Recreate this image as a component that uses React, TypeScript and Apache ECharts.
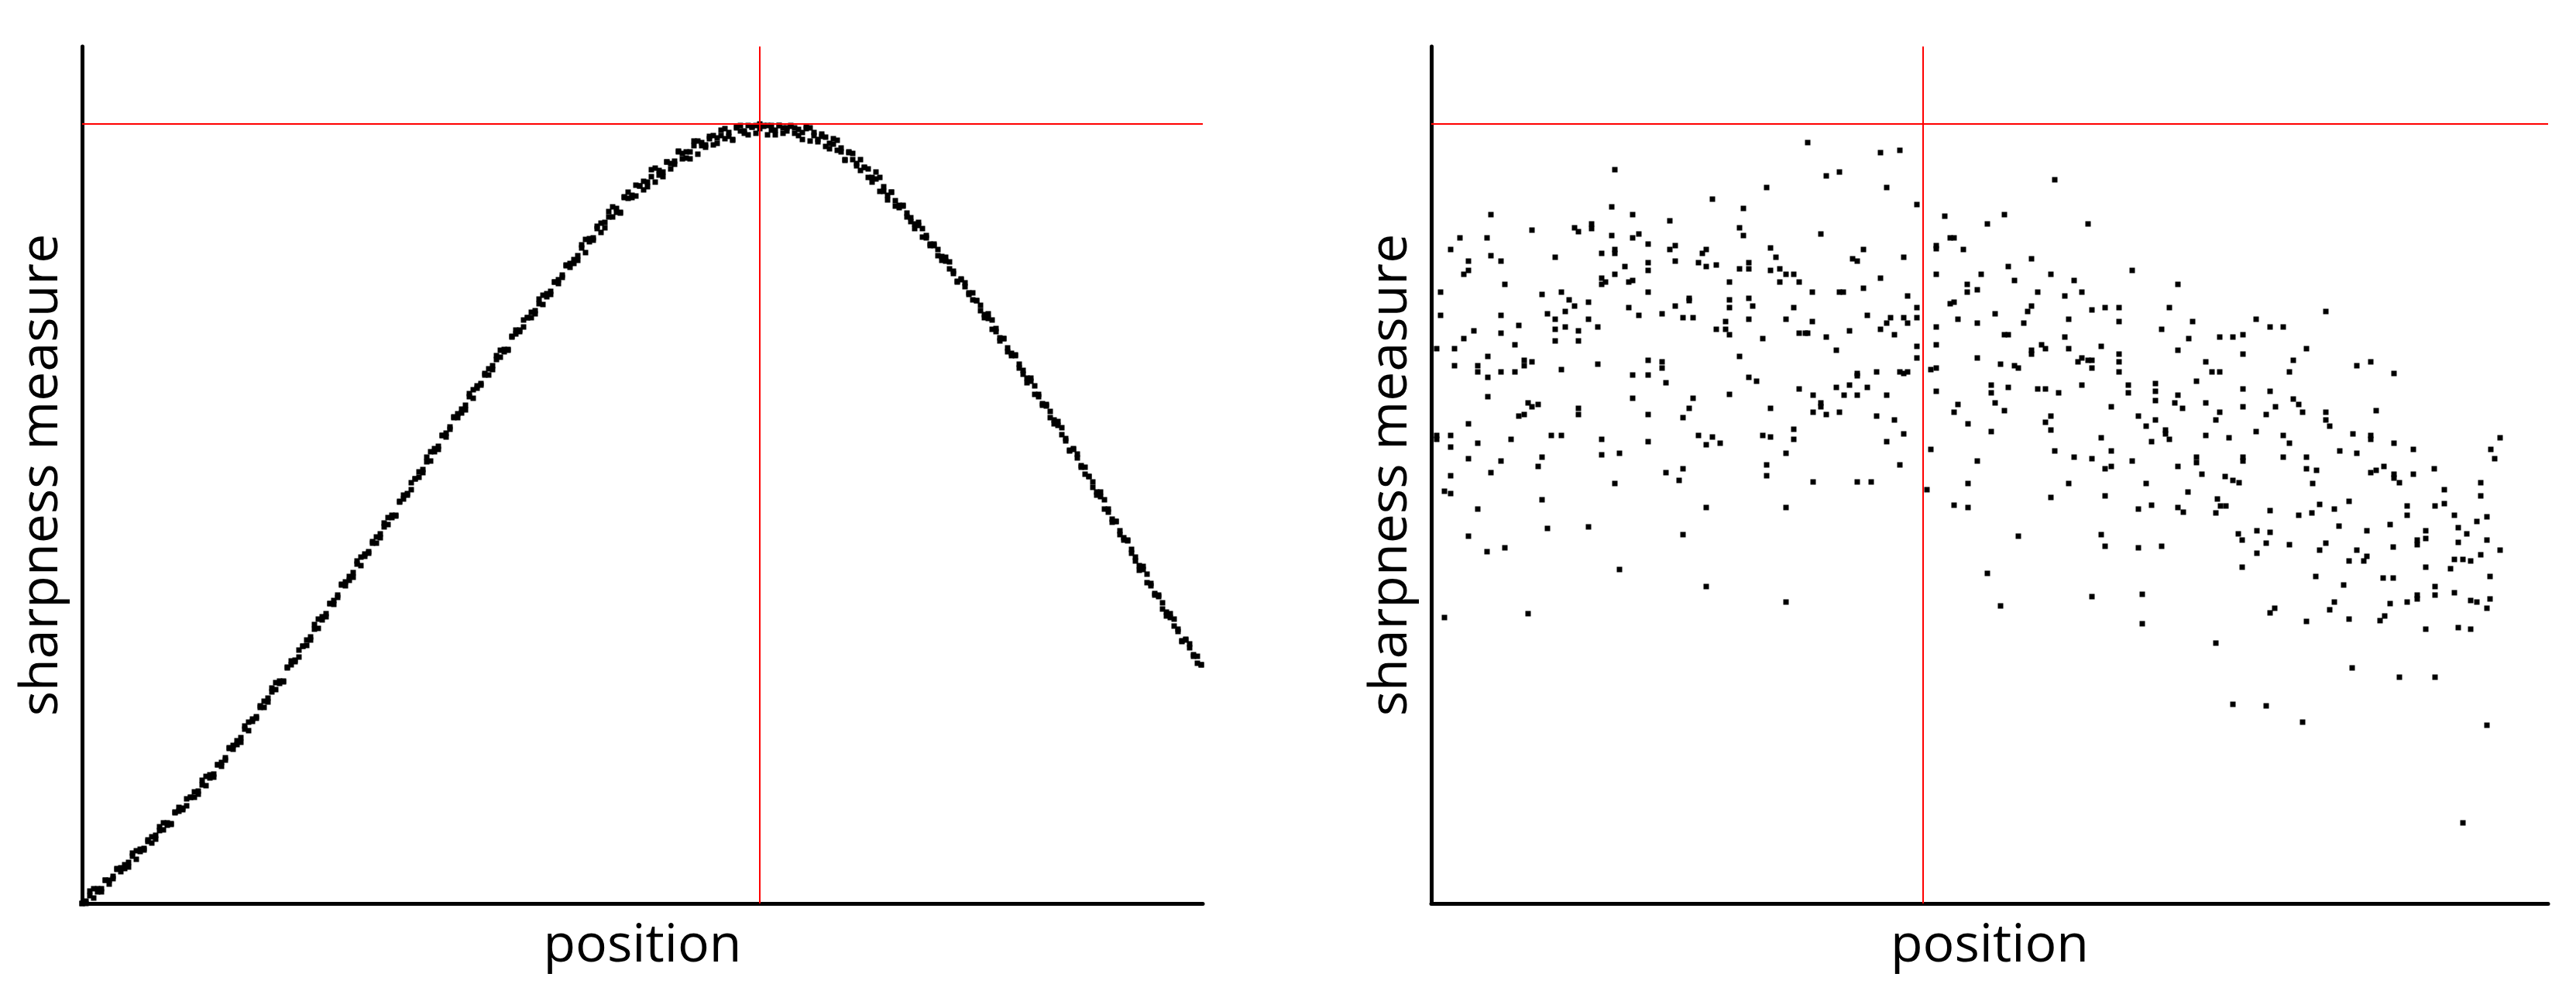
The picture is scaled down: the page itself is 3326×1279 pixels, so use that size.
import React, { useEffect, useRef } from "react";
import * as echarts from "echarts";

// ---------------- data ----------------
const xLabel = "position";
const yLabel = "sharpness measure";

// Left panel: two sharpness samples per focus position step (step index = position)
const leftSampleA = [
  0, 0, 10, 19, 15, 15, 30, 30, 32, 44,
  46, 45, 53, 65, 57, 70, 71, 82, 78, 88,
  99, 95, 104, 102, 117, 124, 123, 126, 137, 144,
  141, 153, 164, 162, 163, 179, 182, 185, 200, 204,
  205, 214, 229, 223, 238, 241, 255, 253, 265, 278,
  276, 287, 286, 304, 313, 314, 318, 332, 340, 340,
  354, 367, 366, 370, 387, 391, 395, 411, 415, 417,
  427, 442, 436, 451, 454, 467, 465, 477, 491, 489,
  501, 500, 518, 527, 529, 534, 548, 557, 556, 570,
  583, 583, 586, 604, 607, 612, 627, 632, 633, 643,
  658, 652, 668, 671, 684, 682, 694, 707, 705, 715,
  714, 731, 740, 740, 744, 756, 763, 761, 774, 785,
  783, 786, 802, 805, 808, 823, 826, 826, 836, 850,
  840, 858, 859, 874, 866, 879, 893, 886, 897, 891,
  911, 918, 914, 913, 926, 932, 925, 938, 949, 940,
  938, 957, 955, 954, 970, 968, 962, 970, 984, 967,
  982, 979, 990, 979, 988, 998, 987, 995, 985, 1001,
  1004, 997, 992, 1002, 1004, 1006, 1003, 1004, 998, 992,
  1004, 1001, 997, 1003, 1001, 991, 995, 1003, 984, 995,
  986, 993, 977, 981, 987, 972, 975, 959, 969, 968,
  955, 946, 950, 948, 931, 935, 937, 919, 908, 918,
  907, 898, 900, 891, 880, 877, 879, 860, 862, 851,
  851, 836, 835, 834, 819, 816, 802, 805, 801, 788,
  779, 778, 772, 756, 755, 753, 738, 726, 729, 717,
  707, 707, 696, 683, 678, 678, 657, 657, 645, 644,
  627, 624, 622, 605, 600, 584, 586, 580, 565, 554,
  551, 544, 527, 525, 521, 505, 492, 493, 481, 469,
  468, 457, 442, 436, 435, 414, 413, 400, 398, 380,
  376, 374, 358, 354, 338, 340, 335, 321, 310, 308,
];
const leftSampleB = [
  0, 3, 16, 7, 19, 19, 30, 25, 35, 45,
  41, 50, 47, 61, 68, 67, 69, 80, 86, 83,
  94, 104, 101, 103, 118, 119, 121, 135, 137, 137,
  145, 159, 152, 166, 167, 179, 177, 188, 201, 199,
  210, 208, 225, 234, 235, 239, 253, 261, 260, 273,
  285, 284, 287, 305, 308, 312, 327, 332, 333, 344,
  360, 355, 370, 374, 387, 386, 398, 412, 410, 422,
  421, 438, 447, 448, 452, 465, 473, 472, 486, 498,
  498, 501, 519, 522, 527, 543, 548, 550, 560, 576,
  571, 587, 590, 604, 602, 615, 628, 627, 638, 637,
  654, 663, 665, 669, 682, 690, 689, 702, 714, 712,
  715, 732, 735, 738, 753, 756, 756, 765, 780, 773,
  787, 790, 802, 800, 811, 824, 821, 831, 830, 846,
  857, 854, 856, 871, 878, 872, 886, 899, 892, 892,
  912, 910, 911, 927, 926, 921, 931, 947, 931, 946,
  944, 957, 948, 958, 971, 961, 970, 961, 978, 984,
  978, 976, 987, 991, 981, 991, 1000, 990, 986, 1002,
  997, 994, 1004, 1002, 994, 1000, 1004, 992, 1004, 998,
  1004, 994, 1001, 1004, 994, 999, 986, 1000, 1001, 991,
  983, 990, 989, 974, 980, 985, 970, 960, 970, 960,
  952, 960, 950, 937, 937, 944, 919, 925, 914, 918,
  900, 901, 901, 886, 885, 871, 875, 871, 859, 849,
  849, 844, 830, 829, 828, 813, 803, 806, 796, 786,
  788, 778, 765, 760, 761, 741, 742, 730, 729, 712,
  710, 708, 691, 688, 672, 674, 668, 654, 643, 642,
  635, 619, 617, 614, 597, 585, 587, 575, 563, 563,
  551, 537, 531, 531, 509, 509, 496, 493, 476, 472,
  469, 452, 447, 430, 431, 425, 410, 398, 396, 388,
  371, 369, 367, 351, 339, 341, 330, 319, 319, 308,
];
const leftPositionMax = 289.4;

// Right panel: [position, sharpness] samples
const rightPoints: [number, number][] = [
  [237,947],[433,924],[363,909],[233,899],[403,897],[77,889],[260,889],[308,881],[130,869],[185,872],
  [190,867],[207,877],[207,871],[398,872],[403,862],[233,862],[260,859],[268,864],[37,859],[72,859],
  [280,851],[25,844],[77,836],[48,829],[90,829],[160,834],[220,839],[237,844],[237,839],[308,844],
  [315,849],[350,839],[355,844],[438,846],[445,834],[315,829],[345,827],[355,822],[368,824],[280,827],
  [280,817],[250,822],[398,819],[410,827],[410,819],[438,817],[450,819],[458,812],[468,812],[48,817],
  [42,812],[237,812],[220,807],[220,799],[225,802],[255,802],[260,804],[385,802],[450,802],[475,802],
  [95,799],[12,789],[143,786],[168,789],[178,779],[185,771],[203,776],[280,789],[333,781],[333,778],
  [385,779],[410,781],[415,771],[315,771],[385,769],[468,769],[255,769],[268,759],[298,761],[325,756],
  [338,756],[12,759],[90,759],[150,761],[160,754],[173,764],[203,754],[113,746],[55,739],[42,729],
  [90,736],[160,741],[173,744],[190,739],[215,744],[368,741],[380,751],[380,741],[385,734],[410,754],
  [458,754],[428,729],[475,736],[483,736],[160,726],[190,726],[108,721],[7,716],[30,716],[73,706],
  [30,694],[60,694],[60,686],[73,679],[90,686],[108,686],[120,701],[120,694],[130,699],[168,689],
  [215,696],[280,701],[298,699],[298,691],[260,682],[280,682],[303,672],[398,706],[410,679],[420,674],
  [475,664],[73,654],[125,646],[130,641],[138,644],[113,629],[120,631],[190,639],[190,631],[260,652],
  [280,631],[338,652],[333,639],[325,627],[385,657],[438,639],[48,619],[7,604],[7,599],[25,604],
  [25,589],[60,594],[103,599],[155,604],[168,604],[220,599],[280,596],[345,604],[363,602],[355,592],
  [373,594],[428,604],[438,602],[468,612],[468,599],[48,574],[90,571],[143,576],[138,564],[220,579],
  [243,581],[458,581],[25,552],[77,556],[303,556],[325,561],[320,546],[433,566],[433,552],[237,542],
  [17,532],[25,529],[143,521],[60,509],[355,511],[458,511],[48,474],[150,484],[203,486],[325,476],
  [72,454],[95,459],[243,431],[355,409],[458,389],[17,369],[125,374],
  [486,982],[580,969],[605,972],[510,939],[527,944],[588,924],[805,934],[627,902],[663,887],[740,889],
  [718,877],[848,877],[503,864],[558,844],[544,832],[550,829],[610,834],[652,849],[652,845],[670,859],
  [675,859],[687,844],[775,832],[580,807],[652,812],[710,812],[745,822],[800,812],[905,817],[753,804],
  [830,804],[492,789],[527,789],[532,789],[558,794],[615,784],[692,799],[692,789],[705,792],[783,789],
  [818,784],[840,789],[964,799],[627,769],[670,774],[675,776],[728,761],[775,771],[770,764],[853,766],
  [870,769],[888,769],[953,769],[492,751],[563,759],[593,756],[588,749],[610,756],[615,749],[627,756],
  [680,754],[705,749],[765,749],[823,754],[888,751],[486,736],[510,731],[540,739],[580,741],[598,734],
  [652,744],[740,734],[745,734],[818,731],[943,741],[523,714],[627,719],[627,704],[652,721],[705,704],
  [775,714],[775,709],[788,721],[793,716],[823,716],[865,719],[888,709],[888,699],[964,714],[835,699],
  [840,704],[848,701],[853,701],[853,691],[735,696],[753,694],[758,691],[645,689],[652,691],[550,684],
  [550,681],[575,686],[605,686],[610,684],[615,686],[888,686],[523,666],[540,669],[563,666],[493,656],
  [533,656],[550,656],[588,656],[652,661],[723,669],[723,659],[745,666],[783,664],[793,664],[810,659],
  [840,669],[900,669],[900,659],[935,671],[935,661],[935,649],[964,656],[960,646],[503,646],[503,641],
  [493,634],[510,631],[527,634],[575,629],[598,624],[680,644],[675,634],[728,646],[740,636],[878,641],
  [800,629],[793,621],[800,611],[693,619],[723,609],[610,606],[588,596],[913,629],[923,616],[935,624],
  [948,611],[948,606],[953,599],[930,596],[865,601],[645,586],[805,584],[878,584],[830,576],[853,574],
  [705,571],[905,571],[605,566],[870,561],[878,564],[964,564],[493,544],[550,544],[568,544],[693,542],
  [823,542],[923,542],
  [640,534],[675,514],[693,511],[800,524],[870,526],[913,509],[930,514],[964,511],[758,474],[865,476],
  [870,461],[913,459],[943,461],[718,426],[853,396],[918,399],[735,384],[918,361],
  [970,639],[983,751],[978,729],[1065,754],[1083,744],[1100,744],[1155,764],[1018,731],[1035,731],[1048,734],
  [1048,709],[1130,716],[1000,699],[1008,686],[1018,686],[1113,701],[1108,686],[1195,694],[1213,699],[1243,684],
  [988,674],[1048,664],[1083,661],[1113,651],[1120,644],[1125,634],[1000,646],[1018,634],[1013,624],[1048,641],
  [1078,631],[1090,641],[1155,634],[1155,624],[1160,616],[1220,636],[1000,604],[1030,601],[1065,609],[1100,604],
  [1108,594],[1190,606],[1213,604],[1213,599],[1243,594],[1268,586],[1380,601],[1368,586],[1373,574],[1173,584],
  [1195,581],[988,576],[988,569],[1048,576],[1048,571],[1100,576],[1130,576],[1130,561],[1143,559],[995,554],
  [1025,551],[1035,546],[1043,543],[1213,556],[1220,559],[1230,564],[1243,554],[1243,549],[1250,543],[1268,554],
  [1295,561],[1355,543],[1138,542],
  [977,531],[971,505],[1015,522],[1019,513],[1026,513],[1013,504],[1042,477],[1047,469],[1047,434],[1066,481],
  [1066,452],[1078,465],[1083,479],[1083,507],[1108,463],[1120,501],[1137,504],[1147,515],[1166,509],[1172,487],
  [1185,519],[1147,456],[1155,465],[1142,422],[1178,411],[1185,442],[1195,456],[1204,442],[1208,448],[1208,481],
  [1238,489],[1242,460],[1260,513],[1260,501],[1273,469],[1273,463],[1284,481],[1284,471],[1296,513],[1308,516],
  [1308,534],[1321,501],[1326,485],[1326,466],[1337,477],[1350,493],[1355,526],[1363,499],[1363,469],[1355,450],
  [1380,456],[1321,444],[1316,432],[1332,444],[1342,442],[1367,422],[1367,393],[1363,381],[1342,391],[1350,389],
  [1321,401],[1326,356],[1342,354],[1296,409],[1296,398],[1284,434],[1284,354],[1273,398],[1273,393],[1260,389],
  [1238,387],[1229,420],[1242,420],[1225,365],[1231,371],[1250,292],[1296,292],[1189,304],[1185,367],[1160,379],
  [1166,389],[1130,364],[1125,234],[1089,381],[1083,375],[1078,255],[1035,257],[1013,336],[1332,104],[1363,230],
];
const rightPositionMax = 1442;
const rightPeakPosition = 635;
const rightPeakValue = 1006;

const sharpnessMax = 1106;

// ---------------- chart ----------------
const FONT = "'Open Sans', 'Noto Sans', sans-serif";

export default function App() {
  const ref = useRef<HTMLDivElement>(null);

  useEffect(() => {
    if (!ref.current) return;
    const chart = echarts.init(ref.current, undefined, { renderer: "svg" });

    const leftData: number[][] = [];
    leftSampleA.forEach((v, i) => leftData.push([i, v]));
    leftSampleB.forEach((v, i) => leftData.push([i, v]));

    let leftPeakValue = -Infinity;
    let leftPeakPosition = 0;
    leftSampleA.forEach((v, i) => {
      if (v > leftPeakValue) { leftPeakValue = v; leftPeakPosition = i; }
    });
    leftSampleB.forEach((v, i) => {
      if (v > leftPeakValue) { leftPeakValue = v; leftPeakPosition = i; }
    });

    const axisBase = {
      type: "value" as const,
      axisLine: { show: true, onZero: false, lineStyle: { color: "#000", width: 5 } },
      axisTick: { show: false },
      axisLabel: { show: false },
      splitLine: { show: false },
      nameLocation: "middle" as const,
      nameTextStyle: { fontFamily: FONT, fontSize: 68, color: "#000" },
    };

    const markLine = (px: number, py: number) => ({
      silent: true,
      symbol: ["none", "none"],
      label: { show: false },
      lineStyle: { color: "#ff0000", width: 2, type: "solid" as const },
      data: [{ xAxis: px }, { yAxis: py }],
    });

    const scatterBase = {
      type: "scatter" as const,
      symbol: "rect",
      symbolSize: 7,
      itemStyle: { color: "#000", opacity: 1 },
      emphasis: { disabled: true },
    };

    chart.setOption({
      animation: false,
      backgroundColor: "#fff",
      grid: [
        { left: 106, top: 60, width: 1447, height: 1106 },
        { left: 1848, top: 60, width: 1442, height: 1106 },
      ],
      xAxis: [
        { ...axisBase, gridIndex: 0, min: 0, max: leftPositionMax, name: xLabel, nameGap: 14 },
        { ...axisBase, gridIndex: 1, min: 0, max: rightPositionMax, name: xLabel, nameGap: 14 },
      ],
      yAxis: [
        { ...axisBase, gridIndex: 0, min: 0, max: sharpnessMax, name: yLabel, nameGap: 25 },
        { ...axisBase, gridIndex: 1, min: 0, max: sharpnessMax, name: yLabel, nameGap: 25 },
      ],
      series: [
        {
          ...scatterBase,
          xAxisIndex: 0,
          yAxisIndex: 0,
          data: leftData,
          markLine: markLine(leftPeakPosition, leftPeakValue),
        },
        {
          ...scatterBase,
          xAxisIndex: 1,
          yAxisIndex: 1,
          data: rightPoints,
          markLine: markLine(rightPeakPosition, rightPeakValue),
        },
      ],
    });

    return () => chart.dispose();
  }, []);

  return (
    <div
      ref={ref}
      style={{ position: "absolute", left: 0, top: 0, width: 3326, height: 1279, background: "#fff" }}
    />
  );
}
